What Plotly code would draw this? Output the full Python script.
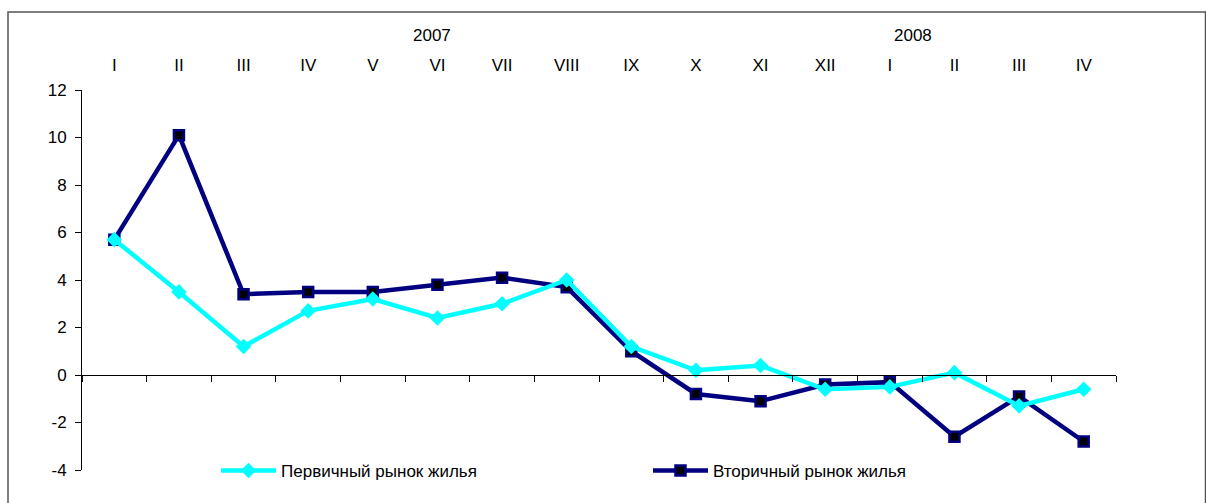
import plotly.graph_objects as go

# Monthly index, % change
months = ["I", "II", "III", "IV", "V", "VI", "VII", "VIII", "IX", "X", "XI", "XII",
          "I", "II", "III", "IV"]
years = ["2007", "2008"]
primary_market = [5.7, 3.5, 1.2, 2.7, 3.2, 2.4, 3.0, 4.0, 1.2, 0.2, 0.4, -0.6,
                  -0.5, 0.1, -1.3, -0.6]
secondary_market = [5.7, 10.1, 3.4, 3.5, 3.5, 3.8, 4.1, 3.7, 1.0, -0.8, -1.1, -0.4,
                    -0.3, -2.6, -0.9, -2.8]
series_names = ["Первичный рынок жилья", "Вторичный рынок жилья"]
y_ticks = [-4, -2, 0, 2, 4, 6, 8, 10, 12]

xpos = list(range(len(months)))
FONT = "Liberation Sans, Arial, sans-serif"
FS = 17

fig = go.Figure()
fig.add_trace(go.Scatter(
    x=xpos, y=primary_market, name=series_names[0], mode="lines+markers",
    line=dict(color="#00FFFF", width=4.5),
    marker=dict(symbol="diamond", size=12, color="#00FFFF"),
    xaxis="x2",
))
fig.add_trace(go.Scatter(
    x=xpos, y=secondary_market, name=series_names[1], mode="lines+markers",
    line=dict(color="#000080", width=4.5),
    marker=dict(symbol="square", size=10, color="#000000",
                line=dict(color="#000080", width=2.5)),
))

# Year captions above the month labels
for label, xv in zip(years, [4.92, 12.36]):
    fig.add_annotation(text=label, x=xv, xref="x", y=1, yref="paper", yshift=55,
                       showarrow=False, font=dict(family=FONT, size=FS, color="#000"),
                       xanchor="center", yanchor="middle")

# Frame around the whole chart
fig.add_shape(type="rect", xref="paper", yref="paper",
              x0=(8 - 82) / 1034, x1=(1205.5 - 82) / 1034,
              y0=-0.2, y1=(470 - 12) / 380,
              line=dict(color="#555555", width=1.5))

n = len(months)
fig.update_layout(
    width=1206, height=503, autosize=False,
    margin=dict(l=82, r=90, t=90, b=33),
    paper_bgcolor="white", plot_bgcolor="white",
    font=dict(family=FONT, size=FS, color="#000"),
    showlegend=True,
    legend=dict(orientation="h", x=(216 - 82) / 1034, xanchor="left",
                y=(470 - 471) / 380, yanchor="middle",
                entrywidth=362, entrywidthmode="pixels", itemwidth=55,
                font=dict(family=FONT, size=FS, color="#000"),
                bgcolor="rgba(0,0,0,0)"),
    xaxis=dict(range=[-0.5, n - 0.5], anchor="free", position=0.25,
               showline=True, linecolor="#000", linewidth=1,
               ticks="outside", ticklen=6, tickcolor="#000",
               tickvals=[i - 0.5 for i in range(n + 1)],
               showticklabels=False, showgrid=False, zeroline=False),
    xaxis2=dict(range=[-0.5, n - 0.5], overlaying="x", side="top",
                tickvals=xpos, ticktext=months, ticks="", showline=False,
                showgrid=False, zeroline=False, ticklabelstandoff=15,
                tickfont=dict(family=FONT, size=FS, color="#000")),
    yaxis=dict(range=[-4, 12], tickvals=y_ticks, ticktext=[str(v) for v in y_ticks],
               showline=True, linecolor="#000",
               linewidth=1, ticks="outside", ticklen=6, tickcolor="#000",
               showgrid=False, zeroline=False, ticklabelstandoff=5,
               tickfont=dict(family=FONT, size=FS, color="#000")),
)

fig.write_html("out.html")
